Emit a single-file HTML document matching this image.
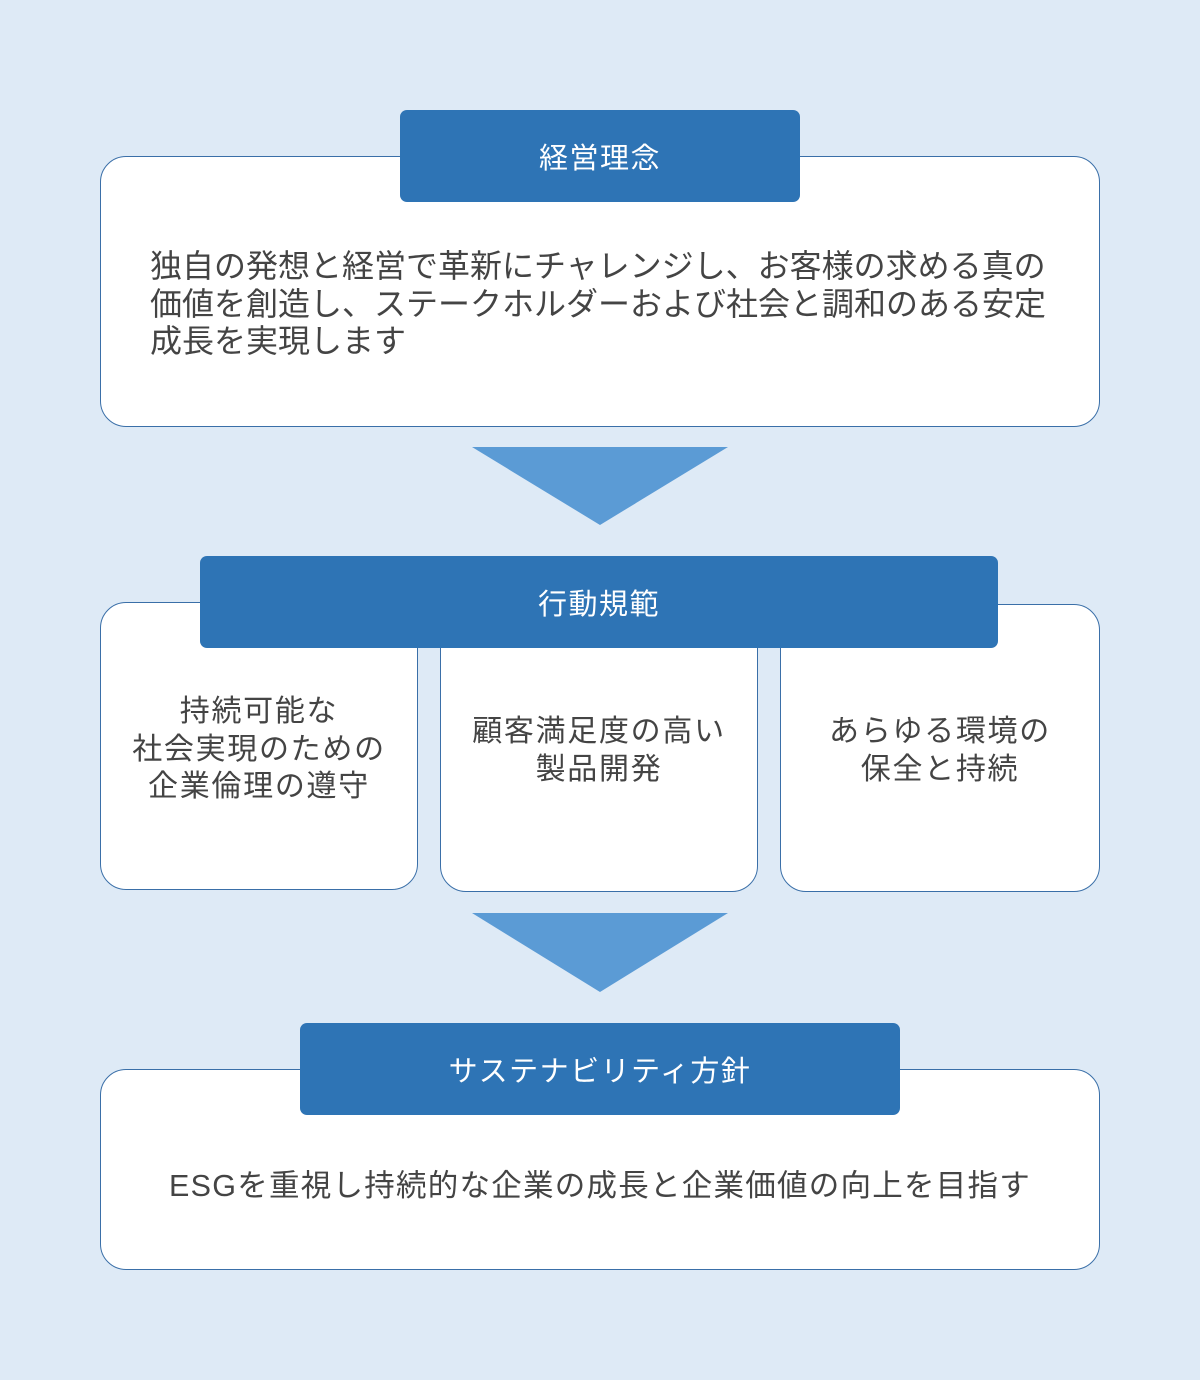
<!DOCTYPE html>
<html><head><meta charset="utf-8"><style>
*{margin:0;padding:0;box-sizing:border-box}
body{width:1200px;height:1380px;background:#deeaf6;position:relative;font-family:"Liberation Sans","Noto Sans CJK JP",sans-serif;color:#444;overflow:hidden}
.box{position:absolute;background:#fff;border:1px solid #3a6fa8;border-radius:26px}
.hd{position:absolute;background:#2e74b5;border-radius:7px;color:#fff;font-size:29px;display:flex;align-items:center;justify-content:center;letter-spacing:1.5px}
.t{position:absolute;font-size:32px;line-height:37.5px;letter-spacing:0px;white-space:nowrap}
.c{position:absolute;font-size:30px;line-height:37.5px;text-align:center;letter-spacing:1.7px;white-space:nowrap}
svg{position:absolute;left:0;top:0}
</style></head><body>
<div class="box" style="left:100px;top:156px;width:1000px;height:271px"></div>
<div class="hd" style="left:400px;top:110px;width:400px;height:92px">経営理念</div>
<div class="t" style="left:150px;top:248px;width:950px">独自の発想と経営で革新にチャレンジし、お客様の求める真の<br>価値を創造し、ステークホルダーおよび社会と調和のある安定<br>成長を実現します</div>
<svg width="1200" height="1380"><polygon points="472,447 728,447 600,525" fill="#5b9bd5"/><polygon points="472,913 728,913 600,992" fill="#5b9bd5"/></svg>
<div class="box" style="left:100px;top:602px;width:318px;height:288px"></div>
<div class="box" style="left:440px;top:602px;width:318px;height:290px"></div>
<div class="box" style="left:780px;top:604px;width:320px;height:288px"></div>
<div class="hd" style="left:200px;top:556px;width:798px;height:92px">行動規範</div>
<div class="c" style="left:100px;top:693px;width:318px">持続可能な<br>社会実現のための<br>企業倫理の遵守</div>
<div class="c" style="left:440px;top:713px;width:318px">顧客満足度の高い<br>製品開発</div>
<div class="c" style="left:780px;top:713px;width:320px">あらゆる環境の<br>保全と持続</div>
<div class="box" style="left:100px;top:1069px;width:1000px;height:201px"></div>
<div class="hd" style="left:300px;top:1023px;width:600px;height:92px">サステナビリティ方針</div>
<div class="c" style="left:100px;top:1168px;width:1000px;font-size:30.5px;letter-spacing:1.25px">ESGを重視し持続的な企業の成長と企業価値の向上を目指す</div>
</body></html>
